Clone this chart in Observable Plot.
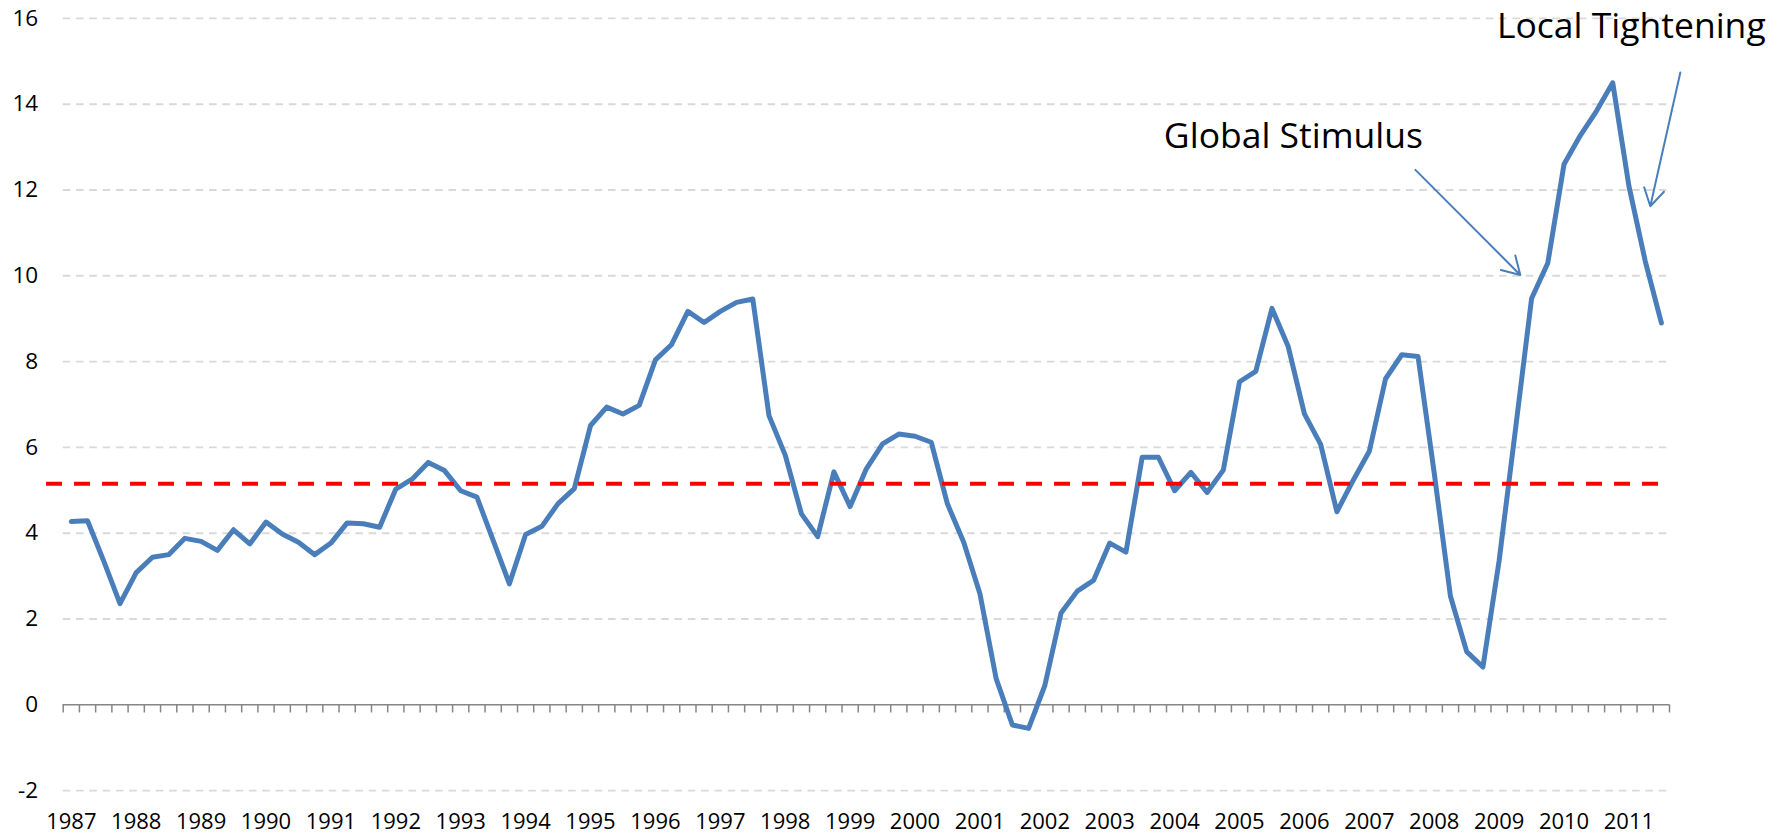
<!DOCTYPE html>
<html>
<head>
<meta charset="utf-8">
<script src="https://cdn.jsdelivr.net/npm/d3@7"></script>
<script src="https://cdn.jsdelivr.net/npm/@observablehq/plot@0.6"></script>
<style>
  html, body { margin: 0; padding: 0; background: #fff; }
  #chart svg { display: block; }
</style>
</head>
<body>
<div id="chart"></div>
<script>
// Quarterly series, 1987Q1 .. 2011Q3
const startYear = 1987;
const values = [
  4.27, 4.29, 3.35, 2.36,   // 1987
  3.08, 3.44, 3.50, 3.88,   // 1988
  3.81, 3.60, 4.08, 3.75,   // 1989
  4.26, 3.98, 3.79, 3.50,   // 1990
  3.77, 4.24, 4.22, 4.14,   // 1991
  5.03, 5.26, 5.65, 5.46,   // 1992
  4.99, 4.84, 3.83, 2.82,   // 1993
  3.97, 4.16, 4.69, 5.04,   // 1994
  6.51, 6.94, 6.78, 6.98,   // 1995
  8.04, 8.40, 9.17, 8.91,   // 1996
  9.17, 9.38, 9.46, 6.74,   // 1997
  5.82, 4.45, 3.92, 5.43,   // 1998
  4.62, 5.50, 6.08, 6.31,   // 1999
  6.26, 6.12, 4.68, 3.79,   // 2000
  2.59, 0.61, -0.47, -0.55, // 2001
  0.45, 2.14, 2.65, 2.90,   // 2002
  3.77, 3.56, 5.77, 5.77,   // 2003
  4.99, 5.42, 4.95, 5.47,   // 2004
  7.53, 7.77, 9.24, 8.35,   // 2005
  6.78, 6.07, 4.50, 5.23,   // 2006
  5.91, 7.60, 8.16, 8.12,   // 2007
  5.40, 2.53, 1.24, 0.88,   // 2008
  3.36, 6.40, 9.47, 10.30,  // 2009
  12.60, 13.27, 13.84, 14.50, // 2010
  12.09, 10.35, 8.90        // 2011
];
const average = 5.15;
const yTicks = [-2, 0, 2, 4, 6, 8, 10, 12, 14, 16];
const yearLabels = d3.range(1987, 2012);

const labels = [
  {text: "Global Stimulus", x: 2003.834, y: 12.97},
  {text: "Local Tightening", x: 2008.966, y: 15.54}
];
const arrows = [
  {x1: 2007.71, y1: 12.47, x2: 2009.326, y2: 10.02},
  {x1: 2011.792, y1: 14.74, x2: 2011.329, y2: 11.62}
];

const data = values.map((v, i) => ({t: startYear + i / 4, v}));
const boundaries = d3.range(100).map(k => startYear - 0.125 + k * 0.25);

const chart = Plot.plot({
  width: 1790,
  height: 837,
  marginLeft: 62.7,
  marginRight: 121,
  marginTop: 17.9,
  marginBottom: 46.9,
  x: {domain: [startYear - 0.125, 2011.625]},
  y: {domain: [-2, 16]},
  style: {fontFamily: "'Open Sans', sans-serif", fontSize: "22px", color: "#000", background: "#fff"},
  marks: [
    Plot.ruleY(yTicks.filter(d => d !== 0), {stroke: "#D9D9D9", strokeWidth: 1.9, strokeDasharray: "7.6,5.7"}),
    Plot.ruleY([0], {stroke: "#868686", strokeWidth: 1.5}),
    Plot.ruleX(boundaries, {x: d => d, y1: 0, y2: -0.19, stroke: "#868686", strokeWidth: 1.5}),
    Plot.line(data, {x: "t", y: "v", stroke: "#4A7EBB", strokeWidth: 5, strokeLinejoin: "round", strokeLinecap: "round"}),
    Plot.ruleY([average], {y: d => d, x1: 1986.618, x2: 2011.479, stroke: "#FF0000", strokeWidth: 4, strokeDasharray: "16,12"}),
    Plot.arrow(arrows, {x1: "x1", y1: "y1", x2: "x2", y2: "y2", stroke: "#4A7EBB", strokeWidth: 2, headLength: 15, headAngle: 61}),
    Plot.text(labels, {x: "x", y: "y", text: "text", textAnchor: "start", lineAnchor: "bottom", fontSize: 35.5, fill: "#000"}),
    Plot.axisX(yearLabels, {tickSize: 0, tickPadding: 23, tickFormat: d => String(d), label: null, fontSize: 22}),
    Plot.axisY(yTicks, {tickSize: 0, tickPadding: 25, tickFormat: d => String(d), label: null, fontSize: 22.5})
  ]
});
document.getElementById("chart").appendChild(chart);
</script>
</body>
</html>
